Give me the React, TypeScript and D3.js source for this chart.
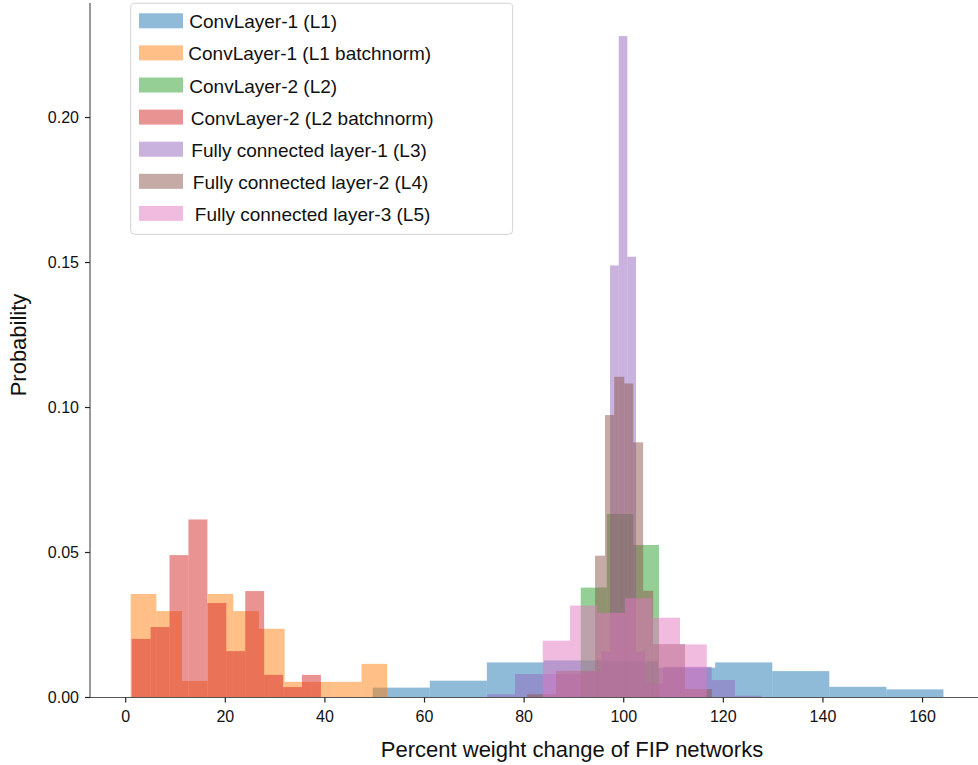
import React from "react";
import * as d3 from "d3";

// ---- data (density histograms; bin edges in % weight change, heights in probability density) ----
const seriesNames = [
  "ConvLayer-1 (L1)",
  "ConvLayer-1 (L1 batchnorm)",
  "ConvLayer-2 (L2)",
  "ConvLayer-2 (L2 batchnorm)",
  "Fully connected layer-1 (L3)",
  "Fully connected layer-2 (L4)",
  "Fully connected layer-3 (L5)",
];
const seriesColors = ["#1f77b4", "#ff7f0e", "#2ca02c", "#d62728", "#9467bd", "#8c564b", "#e377c2"];

const l1Edges = [49.6, 61.06, 72.52, 83.98, 95.44, 106.9, 118.36, 129.82, 141.28, 152.74, 164.2];
const l1Heights = [0.0034, 0.0058, 0.0121, 0.0128, 0.0125, 0.0103, 0.0121, 0.0091, 0.0037, 0.0028];

const l1bnEdges = [1.0, 6.15, 11.3, 16.45, 21.6, 26.75, 31.9, 37.05, 42.2, 47.35, 52.5];
const l1bnHeights = [0.0357, 0.0298, 0.0057, 0.0357, 0.0298, 0.0237, 0.0054, 0.0054, 0.0054, 0.0116];

const l2Edges = [91.37, 96.59, 101.93, 107.09];
const l2Heights = [0.0379, 0.0633, 0.0526];

const l2bnEdges = [1.2, 5.0, 8.8, 12.6, 16.4, 20.2, 24.0, 27.8, 31.6, 35.4, 39.2];
const l2bnHeights = [0.0202, 0.0243, 0.0491, 0.0614, 0.0326, 0.016, 0.0367, 0.0078, 0.0036, 0.0078];

const l3Edges = [72.61, 78.17, 86.0, 92.03, 95.5, 97.25, 99.0, 100.72, 102.47, 104.28, 107.89, 112.31, 117.67, 122.35, 127.71];
const l3Heights = [0.0011, 0.0081, 0.0081, 0.0089, 0.0158, 0.149, 0.2281, 0.152, 0.0158, 0.0049, 0.0106, 0.0106, 0.006, 0.0006];

const l4Edges = [80.6, 86.4, 94.24, 96.24, 98.1, 100.1, 101.9, 103.9, 105.9, 112.3, 117.7];
const l4Heights = [0.0011, 0.0092, 0.0489, 0.0974, 0.1106, 0.1083, 0.088, 0.0368, 0.0184, 0.0029];

const l5Edges = [83.73, 89.22, 94.7, 100.26, 105.74, 111.3, 116.67];
const l5Heights = [0.0196, 0.0317, 0.0292, 0.0342, 0.0275, 0.0183];

const allEdges = [l1Edges, l1bnEdges, l2Edges, l2bnEdges, l3Edges, l4Edges, l5Edges];
const allHeights = [l1Heights, l1bnHeights, l2Heights, l2bnHeights, l3Heights, l4Heights, l5Heights];

const xTicks = [0, 20, 40, 60, 80, 100, 120, 140, 160];
const yTicks = [0, 0.05, 0.1, 0.15, 0.2];
const xLabel = "Percent weight change of FIP networks";
const yLabel = "Probability";

// ---- layout ----
const W = 978;
const H = 765;
const FONT = "'Liberation Sans', Arial, Helvetica, sans-serif";
const legendTextDx = [0, -1, 0, 1.5, 2, 3.5, 5.5];

export default function App() {
  const x = d3.scaleLinear().domain([-7.17, 172.36]).range([90, 984.1]);
  const y = d3.scaleLinear().domain([0, 0.2395]).range([697.5, 3]);
  const y0 = y(0);

  return (
    <svg
      width={W}
      height={H}
      viewBox={`0 0 ${W} ${H}`}
      style={{ position: "absolute", left: 0, top: 0, background: "#fff" }}
      fontFamily={FONT}
    >
      <rect x={0} y={0} width={W} height={H} fill="#fff" />
      {/* histograms */}
      {allEdges.map((edges, si) => (
        <g key={si} fill={seriesColors[si]} fillOpacity={0.5}>
          {allHeights[si].map((h, bi) => {
            const xa = x(edges[bi]);
            const xb = x(edges[bi + 1]);
            const yt = y(h);
            return <rect key={bi} x={xa} y={yt} width={xb - xa} height={y0 - yt} />;
          })}
        </g>
      ))}

      {/* spines */}
      <line x1={90} x2={90} y1={3} y2={y0} stroke="#555" strokeWidth={1.2} />
      <line x1={90} x2={W} y1={y0} y2={y0} stroke="#555" strokeWidth={1.2} />

      {/* x ticks */}
      {xTicks.map((t) => (
        <g key={t}>
          <line x1={x(t)} x2={x(t)} y1={y0} y2={y0 + 5} stroke="#222" strokeWidth={1.2} />
          <text x={x(t)} y={y0 + 24} textAnchor="middle" fontSize={16} fill="#111">
            {t}
          </text>
        </g>
      ))}
      {/* y ticks */}
      {yTicks.map((t) => (
        <g key={t}>
          <line x1={85} x2={90} y1={y(t)} y2={y(t)} stroke="#222" strokeWidth={1.2} />
          <text x={79} y={y(t) + 5.8} textAnchor="end" fontSize={16} fill="#111">
            {d3.format(".2f")(t)}
          </text>
        </g>
      ))}

      {/* axis labels */}
      <text x={572} y={757} textAnchor="middle" fontSize={22} fill="#111">
        {xLabel}
      </text>
      <text transform="translate(26,345) rotate(-90)" textAnchor="middle" fontSize={22} fill="#111">
        {yLabel}
      </text>

      {/* legend */}
      <g>
        <rect x={130.7} y={3.3} width={382} height={231} rx={4} fill="#fff" fillOpacity={0.8} stroke="#d3d3d3" strokeWidth={1} />
        {seriesNames.map((name, i) => {
          const top = 13.3 + i * 32.1;
          return (
            <g key={name}>
              <rect x={139} y={top} width={44} height={15} fill={seriesColors[i]} fillOpacity={0.5} />
              <text x={189.3 + legendTextDx[i]} y={top + 15} fontSize={19} fill="#111">
                {name}
              </text>
            </g>
          );
        })}
      </g>
    </svg>
  );
}
